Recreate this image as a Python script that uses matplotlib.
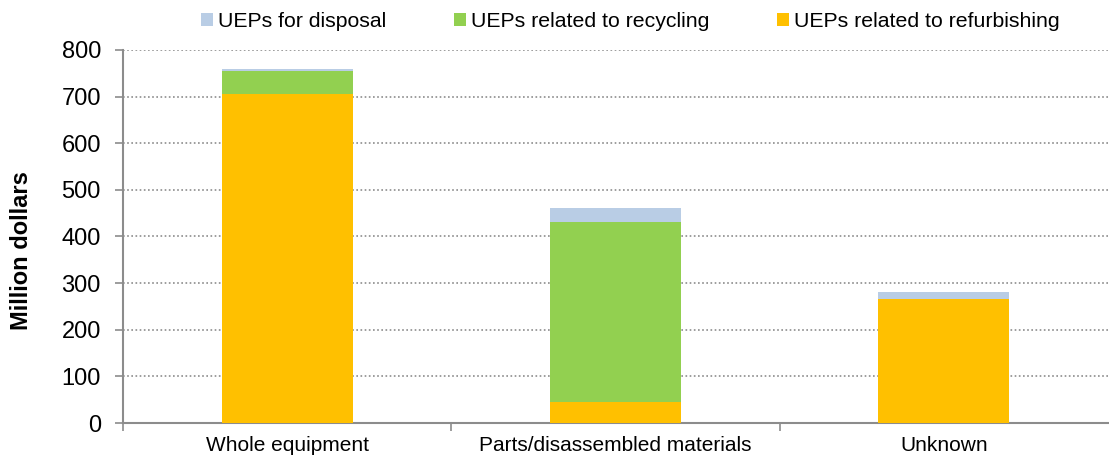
import numpy as np
import matplotlib.pyplot as plt

plt.rcParams['font.family'] = ['Liberation Sans', 'DejaVu Sans']

categories = ['Whole equipment', 'Parts/disassembled materials', 'Unknown']
refurbishing = [705, 45, 265]
recycling = [50, 387, 0]
disposal = [3, 29, 15]

series_names = ['UEPs for disposal', 'UEPs related to recycling', 'UEPs related to refurbishing']
colors = {'refurb': '#FFC000', 'recycle': '#92D050', 'disposal': '#B9CDE5'}

fig = plt.figure(figsize=(11.09, 4.62), dpi=100)
ax = fig.add_axes([0.111, 0.0844, 0.888, 0.8076])

x = np.arange(len(categories))
w = 0.40
refurb = np.array(refurbishing)
recyc = np.array(recycling)
disp = np.array(disposal)

b_ref = ax.bar(x, refurb, w, color=colors['refurb'], edgecolor='none', zorder=3)
b_rec = ax.bar(x, recyc, w, bottom=refurb, color=colors['recycle'], edgecolor='none', zorder=3)
b_dis = ax.bar(x, disp, w, bottom=refurb + recyc, color=colors['disposal'], edgecolor='none', zorder=3)

ax.set_xlim(-0.5, len(categories) - 0.5)
ax.set_ylim(0, 800)
ax.set_yticks(np.arange(0, 801, 100))
ax.yaxis.grid(True, linestyle=(0, (1, 1.5)), color='#8c8c8c', linewidth=1.2, zorder=0)

ax.set_xticks(x)
ax.set_xticklabels(categories, fontsize=15)
ax.set_xticks(np.arange(-0.5, len(categories) - 0.9, 1), minor=True)
ax.tick_params(axis='x', which='major', length=0, pad=9)
ax.tick_params(axis='x', which='minor', length=6, color='#8c8c8c', width=1.2)
ax.tick_params(axis='y', length=6, color='#8c8c8c', width=1.2, labelsize=17, pad=10)

for s in ['top', 'right']:
    ax.spines[s].set_visible(False)
for s in ['left', 'bottom']:
    ax.spines[s].set_color('#8c8c8c')
    ax.spines[s].set_linewidth(1.5)

# y label sits a bit below the axis centre in the original
fig.text(22 / 1109, 1 - 251 / 462, 'Million dollars', rotation=90, fontsize=17,
         fontweight='bold', ha='center', va='center')

leg = fig.legend([b_dis, b_rec, b_ref], series_names, loc='center', bbox_to_anchor=(0.5685, 0.953),
                 ncol=3, frameon=False, fontsize=15.3, handlelength=0.55, handleheight=0.55,
                 handletextpad=0.25, columnspacing=3.2)

fig.savefig('out.png', dpi=100)
